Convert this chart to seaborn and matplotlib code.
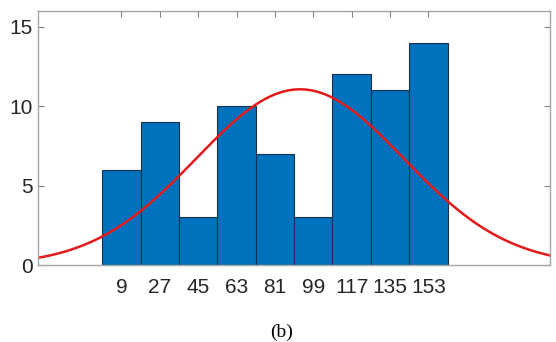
import numpy as np
import pandas as pd
import matplotlib
matplotlib.use("Agg")
import matplotlib.pyplot as plt
import seaborn as sns

# Data
bin_centers = [9, 27, 45, 63, 81, 99, 117, 135, 153]
counts = [6, 9, 3, 10, 7, 3, 12, 11, 14]
bin_width = 18
tick_labels = ["9", "27", "45", "63", "81", "99", "117", "135", "153"]
y_ticks = [0, 5, 10, 15]
caption = "(b)"

sns.set_theme(style="white")
plt.rcParams["font.family"] = ["Liberation Sans", "DejaVu Sans"]

fig = plt.figure(figsize=(5.56, 3.42), dpi=100)
ax = fig.add_axes([0.069, 0.225, 0.920, 0.743])

df = pd.DataFrame({"x": bin_centers, "n": counts})
lo = bin_centers[0] - bin_width / 2
hi = bin_centers[-1] + bin_width / 2
sns.histplot(data=df, x="x", weights="n", binwidth=bin_width, binrange=(lo, hi),
             stat="count", color="#0072BD", alpha=1.0, edgecolor="#1c2f4a",
             linewidth=0.8, ax=ax)

# normal fit (histfit style) derived from the binned data
vals = np.repeat(bin_centers, counts)
mu = vals.mean()
sd = vals.std(ddof=1)
scale = len(vals) * bin_width
xs = np.linspace(-30, 210, 400)
ys = scale / (sd * np.sqrt(2 * np.pi)) * np.exp(-0.5 * ((xs - mu) / sd) ** 2)
sns.lineplot(x=xs, y=ys, color="#E31A1A", linewidth=1.8, ax=ax)

ax.set_xlim(-30, 210)
ax.set_ylim(0, 16)
ax.set_xticks(bin_centers)
ax.set_xticklabels(tick_labels)
ax.set_yticks(y_ticks)
ax.set_xlabel("")
ax.set_ylabel("")
for s in ax.spines.values():
    s.set_visible(True)
    s.set_color("#a6a6a6")
    s.set_linewidth(1.0)
ax.tick_params(direction="in", length=4, width=0.8, color="#808080",
               labelsize=15, labelcolor="#262626",
               top=True, right=True, bottom=True, left=True)
ax.tick_params(axis="x", pad=9)
ax.tick_params(axis="y", pad=4)

fig.text(0.507, 0.027, caption, ha="center", va="center",
         fontsize=14, family=["Liberation Serif", "DejaVu Serif"], color="black")

fig.savefig("out.png", dpi=100, facecolor="white")
